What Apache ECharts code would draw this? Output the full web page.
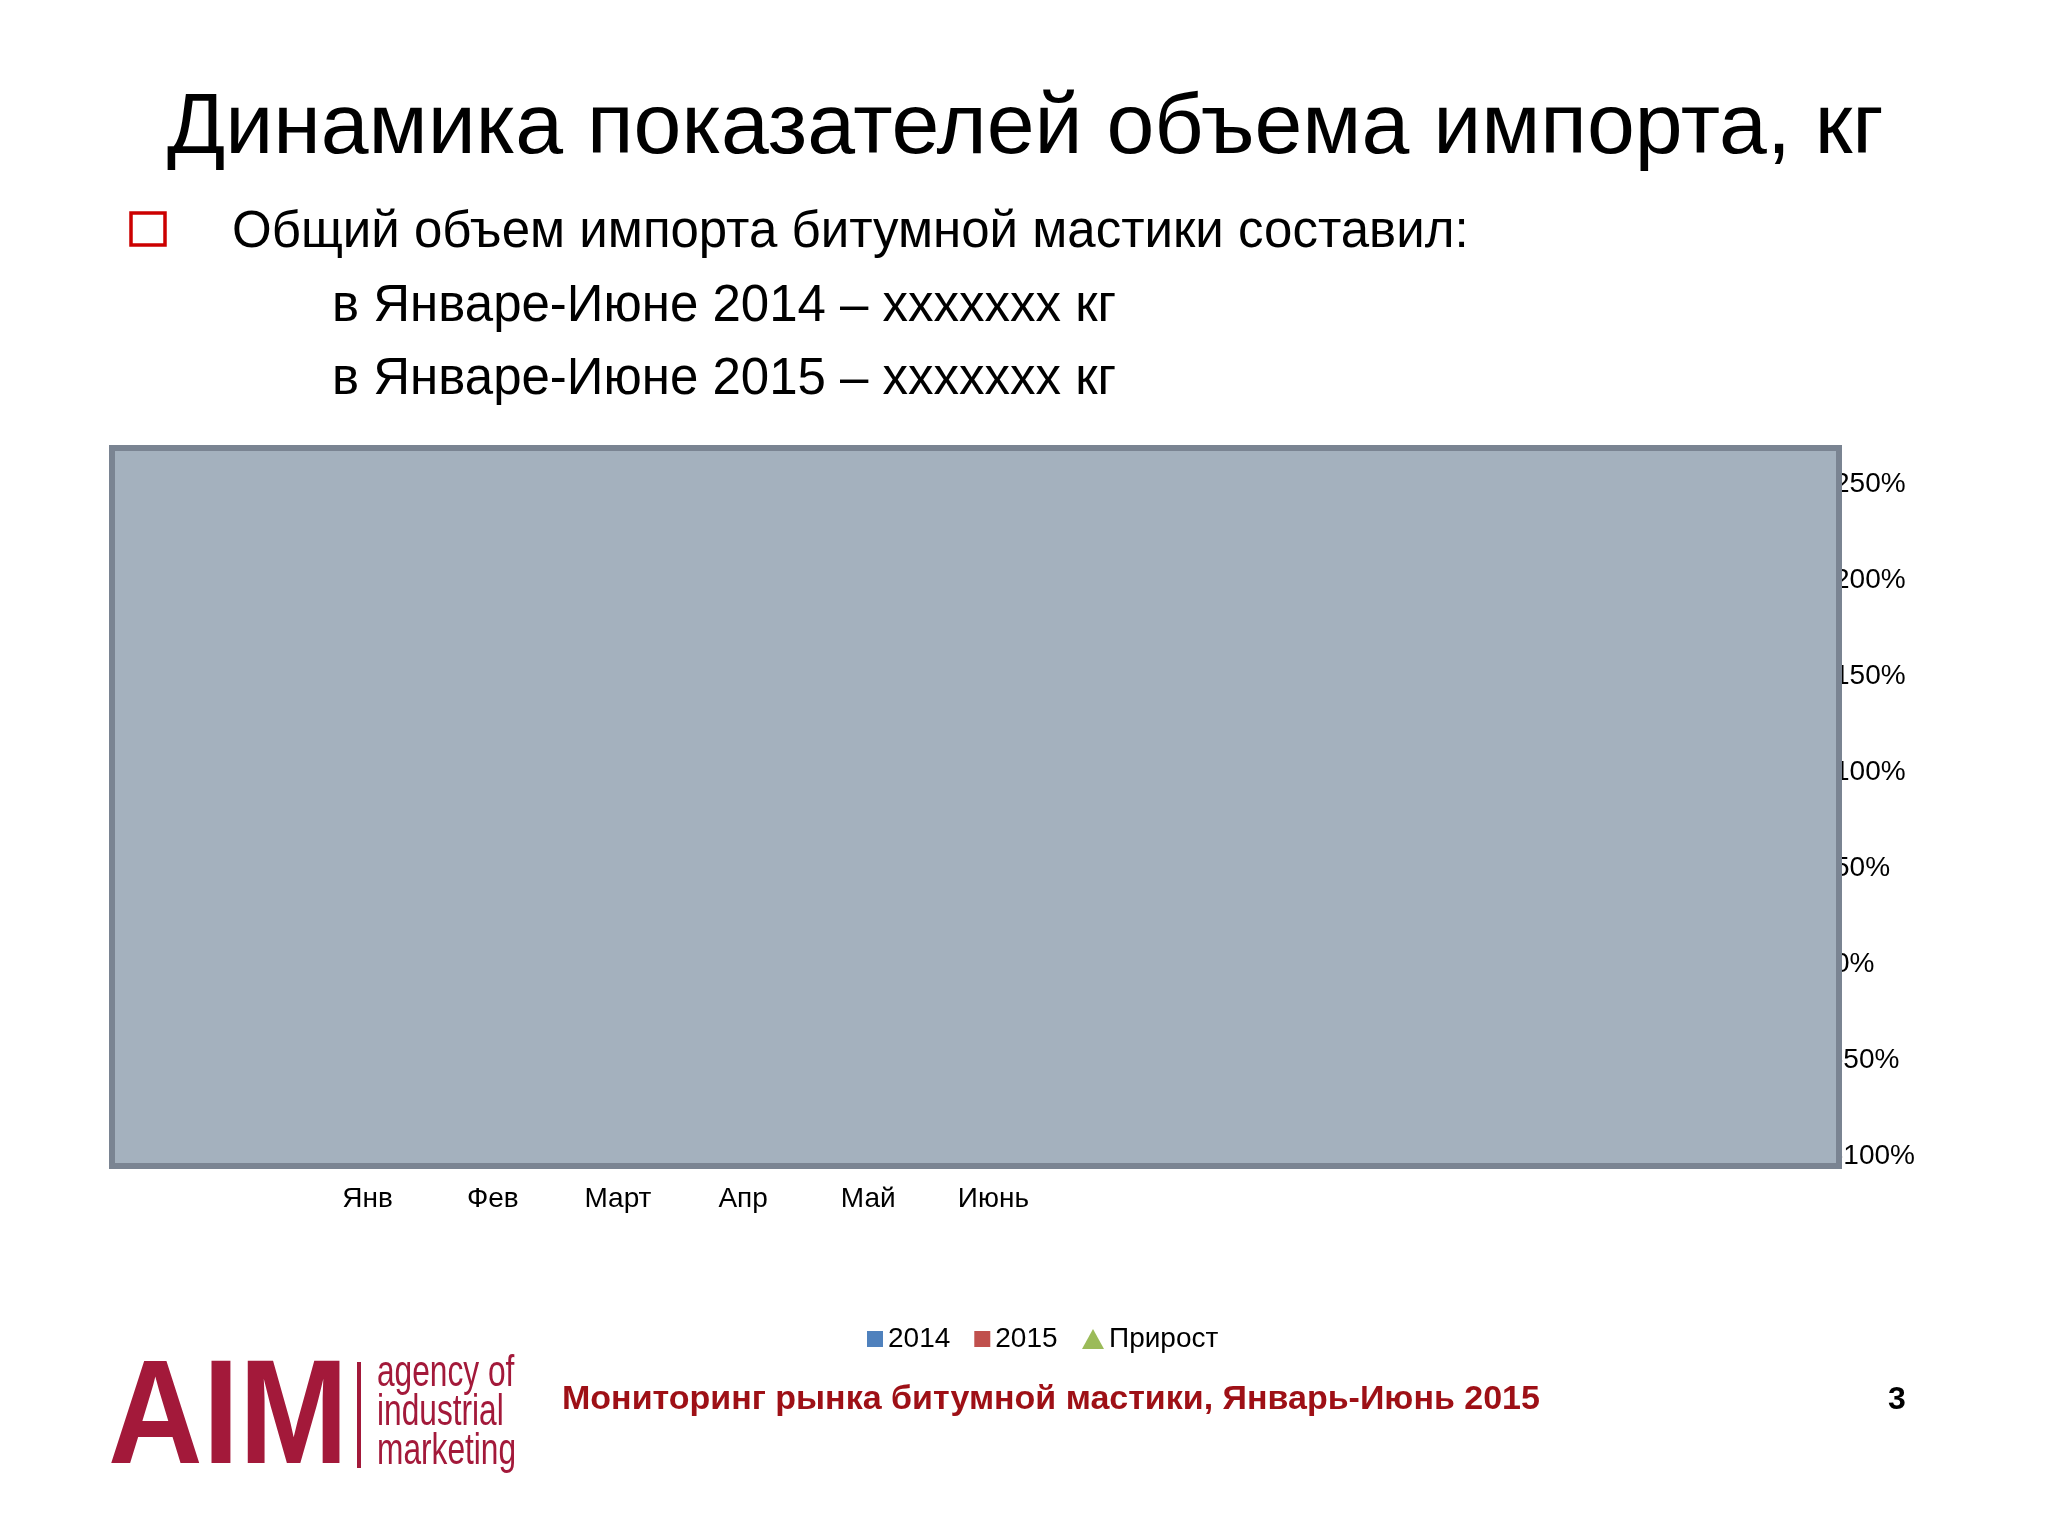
<!DOCTYPE html>
<html>
<head>
<meta charset="utf-8">
<script src="https://cdn.jsdelivr.net/npm/echarts@6/dist/echarts.min.js"></script>
<style>
html,body{margin:0;padding:0;background:#fff;}
#chart{width:2048px;height:1536px;}
</style>
</head>
<body>
<div id="chart"></div>
<script>
// ---- data ----
const categories = ['Янв', 'Фев', 'Март', 'Апр', 'Май', 'Июнь', '', '', '', '', '', ''];
// The monthly values are hidden under the grey overlay in the source slide,
// so they cannot be read; they are left empty (null).
const values2014 = [null, null, null, null, null, null, null, null, null, null, null, null];
const values2015 = [null, null, null, null, null, null, null, null, null, null, null, null];
const growthPct = [null, null, null, null, null, null, null, null, null, null, null, null];
const growthAxisMin = -100;
const growthAxisMax = 250;
const growthAxisStep = 50;
const seriesNames = ['2014', '2015', 'Прирост'];

const titleText = 'Динамика показателей объема импорта, кг';
const bulletText = 'Общий объем импорта битумной мастики составил:';
const subLines = ['в Январе-Июне 2014 – ххххххх кг', 'в Январе-Июне 2015 – ххххххх кг'];
const footerText = 'Мониторинг рынка битумной мастики, Январь-Июнь 2015';
const pageNumber = '3';
const logoMain = 'AIM';
const logoLines = ['agency of', 'industrial', 'marketing'];

const FONT = '"Liberation Sans", Arial, sans-serif';
const logoRed = '#a3193a';

const chart = echarts.init(document.getElementById('chart'));

const graphics = [
  { type: 'text', x: 167, y: 129, style: { text: titleText, font: 'normal 86px ' + FONT, fill: '#000', textAlign: 'left', textVerticalAlign: 'middle' } },
  { type: 'rect', shape: { x: 131, y: 213, width: 34, height: 32 }, style: { fill: 'none', stroke: '#cc0000', lineWidth: 3.5 } },
  { type: 'text', x: 232, y: 233, style: { text: bulletText, font: 'normal 51px ' + FONT, fill: '#000', textVerticalAlign: 'middle' } },
  { type: 'text', x: 332, y: 307, style: { text: subLines[0], font: 'normal 51px ' + FONT, fill: '#000', textVerticalAlign: 'middle' } },
  { type: 'text', x: 332, y: 380, style: { text: subLines[1], font: 'normal 51px ' + FONT, fill: '#000', textVerticalAlign: 'middle' } },
  // overlay covering the plot
  { type: 'rect', z: 100, shape: { x: 112, y: 448, width: 1727, height: 718 }, style: { fill: '#a4b1be', stroke: '#7a8492', lineWidth: 6 } },
  // footer
  { type: 'text', x: 562, y: 1400, style: { text: footerText, font: 'bold 34px ' + FONT, fill: '#9e1016', textVerticalAlign: 'middle' } },
  { type: 'text', x: 1897, y: 1400, style: { text: pageNumber, font: 'bold 32px ' + FONT, fill: '#000', textAlign: 'center', textVerticalAlign: 'middle' } },
  // logo
  { type: 'text', x: 108, y: 1422, scaleX: 0.88, style: { text: logoMain, font: 'bold 149px ' + FONT, fill: logoRed, textVerticalAlign: 'middle' } },
  { type: 'rect', shape: { x: 357, y: 1362, width: 4, height: 106 }, style: { fill: logoRed } },
  { type: 'text', x: 377, y: 1374, scaleX: 0.72, style: { text: logoLines[0], font: 'normal 44px ' + FONT, fill: logoRed, textVerticalAlign: 'middle' } },
  { type: 'text', x: 377, y: 1413, scaleX: 0.72, style: { text: logoLines[1], font: 'normal 44px ' + FONT, fill: logoRed, textVerticalAlign: 'middle' } },
  { type: 'text', x: 377, y: 1452, scaleX: 0.72, style: { text: logoLines[2], font: 'normal 44px ' + FONT, fill: logoRed, textVerticalAlign: 'middle' } }
];

const legendText = { fontSize: 28, color: '#000', fontFamily: FONT };

chart.setOption({
  backgroundColor: '#ffffff',
  animation: false,
  textStyle: { fontFamily: FONT },
  grid: { left: 305, right: 241, top: 484, bottom: 380, containLabel: false },
  legend: [
    {
      left: 862, top: 1320,
      itemWidth: 16, itemHeight: 16, itemGap: 24,
      textStyle: legendText,
      data: [
        { name: seriesNames[0], icon: 'rect' },
        { name: seriesNames[1], icon: 'rect' }
      ]
    },
    {
      left: 1077, top: 1320,
      itemWidth: 22, itemHeight: 20,
      textStyle: legendText,
      data: [{ name: seriesNames[2], icon: 'triangle' }]
    }
  ],
  xAxis: {
    type: 'category', data: categories,
    axisLine: { onZero: false, lineStyle: { color: '#888' } },
    axisTick: { show: false },
    axisLabel: { interval: 0, fontSize: 28, color: '#000', margin: 29, fontFamily: FONT }
  },
  yAxis: [
    { type: 'value', min: 0, position: 'left', axisLabel: { show: false }, splitLine: { show: false }, axisLine: { show: false } },
    {
      type: 'value', position: 'right', min: growthAxisMin, max: growthAxisMax, interval: growthAxisStep,
      splitLine: { show: false }, axisLine: { show: false }, axisTick: { show: false },
      axisLabel: { formatter: '{value}%', fontSize: 28, color: '#000', margin: 27, fontFamily: FONT }
    }
  ],
  series: [
    { name: seriesNames[0], type: 'bar', data: values2014, itemStyle: { color: '#4f81bd' } },
    { name: seriesNames[1], type: 'bar', data: values2015, itemStyle: { color: '#c0504d' } },
    { name: seriesNames[2], type: 'line', yAxisIndex: 1, data: growthPct, symbol: 'triangle', symbolSize: 14, itemStyle: { color: '#9bbb59' }, lineStyle: { color: '#9bbb59' } }
  ],
  graphic: { elements: graphics }
});
</script>
</body>
</html>
